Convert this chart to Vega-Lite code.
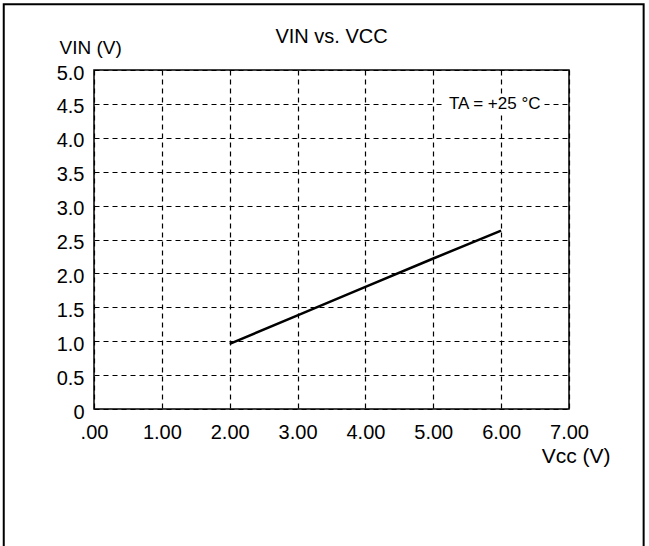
{
  "$schema": "https://vega.github.io/schema/vega-lite/v6.json",
  "width": 475,
  "height": 339,
  "autosize": "none",
  "padding": {"left": 94, "top": 70, "right": 80, "bottom": 137},
  "background": "white",
  "config": {
    "font": "Liberation Sans",
    "view": {"stroke": "black", "strokeWidth": 1.5},
    "axis": {"labelFont": "Liberation Sans", "titleFont": "Liberation Sans", "labelColor": "black", "titleColor": "black", "titleFontWeight": "normal", "domain": false, "ticks": false, "grid": true, "gridColor": "black", "gridOpacity": 1, "gridDash": [5, 4], "gridWidth": 1.2, "labelFontSize": 20, "titleFontSize": 19, "labelOverlap": false, "labelFlush": false}
  },
  "title": {"text": "VIN vs. VCC", "font": "Liberation Sans", "fontSize": 20, "fontWeight": "normal", "color": "black", "anchor": "middle", "frame": "group", "baseline": "alphabetic", "offset": -60},
  "data": {"values": [
    {"vcc": 2.0, "vin": 0.96},
    {"vcc": 3.0, "vin": 1.38},
    {"vcc": 4.0, "vin": 1.80},
    {"vcc": 5.0, "vin": 2.22},
    {"vcc": 6.0, "vin": 2.63}
  ]},
  "layer": [
    {
      "mark": {"type": "line", "color": "black", "strokeWidth": 2.5},
      "encoding": {
        "x": {"field": "vcc", "type": "quantitative", "scale": {"domain": [0, 7], "nice": false},
          "axis": {"tickCount": 7, "grid": true, "labelFlush": false, "labelExpr": "datum.value == 0 ? '.00' : format(datum.value, '.2f')", "labelPadding": 13, "labelBaseline": "top", "title": "Vcc (V)", "titleFontSize": 21, "titleX": 516, "titleY": 47, "titleAlign": "right", "titleBaseline": "middle"}},
        "y": {"field": "vin", "type": "quantitative", "scale": {"domain": [0, 5], "nice": false},
          "axis": {"tickCount": 10, "grid": true, "labelFlush": false, "labelExpr": "datum.value == 0 ? '0' : format(datum.value, '.1f')", "labelPadding": 10, "labelOffset": 3, "title": "VIN (V)", "titleAngle": 0, "titleX": -35, "titleY": -23, "titleAlign": "left", "titleBaseline": "middle"}}
      }
    },
    {
      "data": {"values": [{}]},
      "mark": {"type": "rect", "fill": "white", "stroke": null},
      "encoding": {
        "x": {"datum": 5.15, "type": "quantitative"},
        "x2": {"datum": 6.62},
        "y": {"datum": 4.38, "type": "quantitative"},
        "y2": {"datum": 4.62}
      }
    },
    {
      "data": {"values": [{}]},
      "mark": {"type": "text", "text": "TA = +25 °C", "fontSize": 17, "fontWeight": "normal", "align": "right", "baseline": "middle", "color": "black", "font": "Liberation Sans"},
      "encoding": {
        "x": {"datum": 6.58, "type": "quantitative"},
        "y": {"datum": 4.5, "type": "quantitative"}
      }
    },
    {
      "data": {"values": [{}]},
      "mark": {"type": "rect", "fill": null, "stroke": "black", "strokeWidth": 2, "clip": false},
      "encoding": {
        "x": {"datum": -1.33, "type": "quantitative"},
        "x2": {"datum": 8.1},
        "y": {"datum": -2.3, "type": "quantitative"},
        "y2": {"datum": 5.97}
      }
    }
  ]
}
